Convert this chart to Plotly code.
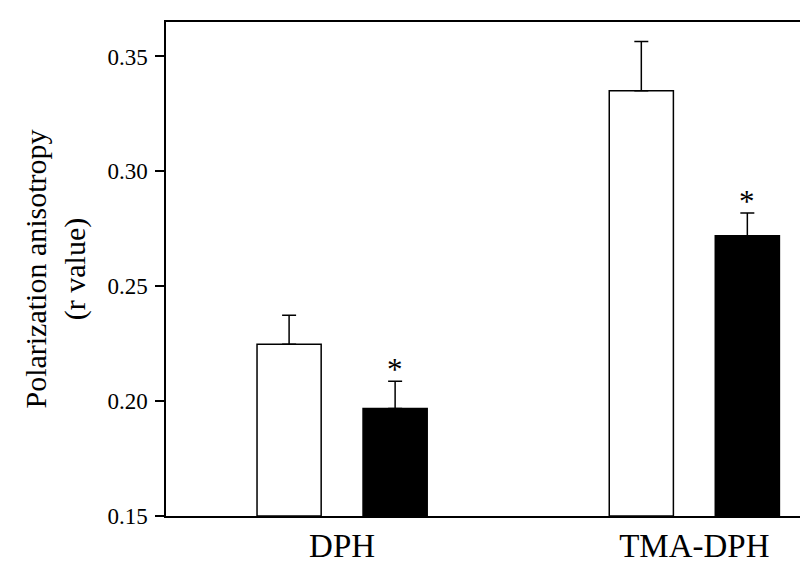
import plotly.graph_objects as go

categories = ["DPH", "TMA-DPH"]
control_vals = [0.2248, 0.3351]
control_err = [0.0126, 0.0214]
treated_vals = [0.1968, 0.2720]
treated_err = [0.0119, 0.0099]
treated_sig = ["*", "*"]

y_ticks = [0.15, 0.20, 0.25, 0.30, 0.35]
serif = "Liberation Serif, Times New Roman, serif"

fig = go.Figure()
for vals, err, fill in [(control_vals, control_err, "white"), (treated_vals, treated_err, "black")]:
    fig.add_trace(
        go.Bar(
            x=categories,
            y=[v - 0.15 for v in vals],
            base=0.15,
            marker={"color": fill, "line": {"color": "black", "width": 1.5}},
            error_y={
                "type": "data",
                "symmetric": False,
                "array": err,
                "arrayminus": [0] * len(err),
                "color": "black",
                "thickness": 1.5,
                "width": 7,
            },
            showlegend=False,
        )
    )

# significance marks above the treated bars
for cat, v, e, s in zip(categories, treated_vals, treated_err, treated_sig):
    fig.add_annotation(
        x=cat, y=v + e, text=s, showarrow=False,
        xshift=53, yshift=-8, yanchor="bottom",
        font={"family": serif, "size": 31, "color": "black"},
    )

fig.update_layout(
    width=800,
    height=571,
    barmode="group",
    bargap=0.398,
    bargroupgap=0.395,
    margin={"l": 166, "r": 0, "t": 22, "b": 55},
    plot_bgcolor="white",
    paper_bgcolor="white",
    font={"family": serif, "color": "black"},
)
fig.update_xaxes(
    range=[-0.5, 1.3],
    showline=True, linecolor="black", linewidth=1.5, mirror=True,
    ticks="", showgrid=False, zeroline=False,
    tickfont={"size": 33},
)
fig.update_yaxes(
    range=[0.15, 0.365],
    tickvals=y_ticks,
    ticktext=[f"{t:.2f}" for t in y_ticks],
    showline=True, linecolor="black", linewidth=1.5,
    ticks="outside", ticklen=9, tickwidth=1.5, tickcolor="black",
    ticklabelstandoff=3,
    showgrid=False, zeroline=False,
    tickfont={"size": 23},
    title={"text": "Polarization anisotropy<br>(r value)", "font": {"size": 30}, "standoff": 13},
)

fig.write_html(
    "out.html",
    config={"displayModeBar": False},
    post_script="document.body.style.margin='0';",
)
